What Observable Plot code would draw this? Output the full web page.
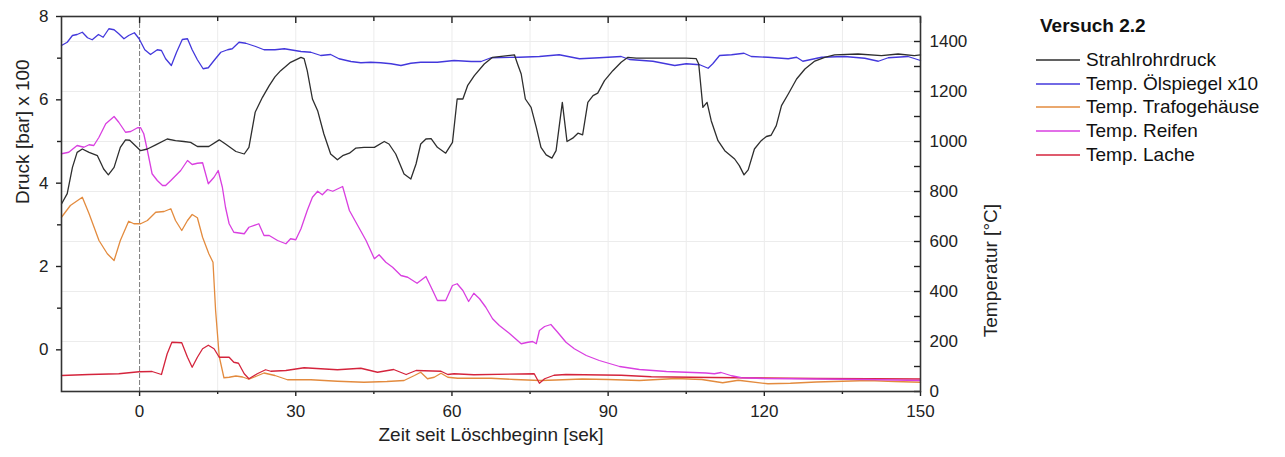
<!DOCTYPE html>
<html><head><meta charset="utf-8">
<script src="https://cdn.jsdelivr.net/npm/d3@7"></script>
<script src="https://cdn.jsdelivr.net/npm/@observablehq/plot@0.6"></script>
<style>
body{margin:0;background:#fff;font-family:"Liberation Sans",Arial,sans-serif;}
#wrap{position:relative;width:1285px;height:457px;overflow:hidden;}
#legend{position:absolute;left:1036px;top:0;width:249px;color:#111;}
#legend .title{position:absolute;left:4px;top:15.5px;font-weight:bold;font-size:19px;line-height:19px;white-space:nowrap;}
#legend .row{position:absolute;left:0;height:24px;display:flex;align-items:center;white-space:nowrap;font-size:19px;line-height:24px;}
#legend svg{display:block;margin-right:6px;}
</style></head>
<body><div id="wrap"><div id="chart"></div><div id="legend"></div></div>
<script>
// ---- Data ----
const legendTitle = "Versuch 2.2";
const seriesNames = ["Strahlrohrdruck", "Temp. Ölspiegel x10", "Temp. Trafogehäuse", "Temp. Reifen", "Temp. Lache"];
const seriesColors = ["#2e2e2e", "#4338dc", "#e38b3e", "#d93fe0", "#d4243c"];

// Strahlrohrdruck [bar x 100] (left axis)
const druckZeit = [-15,-13.9,-12.9,-12,-11,-9.7,-8.1,-6.9,-6,-4.9,-3.7,-2.7,-1.9,-0.8,0.2,1.5,3.1,5.3,6.9,8.5,9.8,11.1,13.3,15.3,16.5,18.5,20.1,21,22.2,23.6,24.9,26,27.1,29,31,31.6,32.2,33.2,34.2,35.4,36.7,38,39,40.3,41.5,43.1,45.1,47,47.9,49.2,50.8,52.1,53.1,54,55,56,57.2,58.8,60.1,61,62.1,63,64.3,66.2,67.8,72,72.6,73.3,74.1,75.2,76.2,77.1,78.1,79.2,80,81.2,82.1,83.2,84.2,85.1,86.1,87.1,88,89.3,90.9,92.5,93.8,95.4,100,105,106.9,107.4,108.2,109,109.8,111.1,112.4,114.3,115.2,116.1,116.9,118.1,119.4,120.4,121.3,122.3,123.3,124.6,126.2,127.8,129.7,131.6,133.5,138,142.5,145.7,148.8,150];
const druckWert = [3.5,3.75,4.38,4.74,4.82,4.74,4.66,4.34,4.2,4.38,4.86,5.04,5.03,4.9,4.78,4.82,4.92,5.06,5.02,5.0,4.98,4.88,4.88,5.04,4.94,4.76,4.7,4.86,5.7,6.06,6.34,6.55,6.7,6.9,7.02,6.99,6.7,6.02,5.74,5.18,4.7,4.56,4.66,4.72,4.84,4.86,4.86,5.0,4.94,4.7,4.22,4.1,4.46,4.94,5.06,5.07,4.86,4.72,4.98,6.02,6.02,6.34,6.58,6.86,7.02,7.08,6.86,6.62,6.02,5.82,5.34,4.86,4.68,4.6,4.78,5.94,5.0,5.08,5.2,5.16,5.94,6.1,6.16,6.46,6.7,6.9,7.02,7.0,7.0,7.0,6.99,6.86,5.82,5.94,5.5,5.02,4.78,4.58,4.42,4.2,4.32,4.82,5.02,5.12,5.15,5.38,5.86,6.14,6.5,6.74,6.93,7.02,7.08,7.1,7.06,7.1,7.06,7.08];

// Temp. Ölspiegel x10 [°C] (right axis)
const oelZeit = [-15,-13.9,-12.9,-12,-11,-10,-9.1,-7.9,-7,-5.9,-4.9,-4,-3,-2.1,-1,-0.1,1,2.1,3.4,4.2,5,6.1,7.1,8.2,9.2,10.1,11.1,12.2,13.2,14.3,15.6,16.9,17.8,19.1,20.4,22.3,23.9,26,27.8,31,32.9,34.8,36.7,38.3,40.6,42.5,44.4,46.3,48.3,50.2,52.1,54,57.2,60.4,63.7,65.6,67.5,72.9,76.8,80.6,84.5,88.3,92.5,94.1,98.6,102.8,105,107.6,109.2,110.1,111.4,113.7,116.1,117.5,120.7,124.6,126.2,127.4,131,135.4,139.3,141.9,143.8,147.6,150];
const oelWert = [1384,1397,1424,1428,1437,1415,1407,1428,1417,1451,1447,1431,1411,1424,1435,1411,1367,1348,1367,1364,1331,1304,1357,1408,1411,1367,1327,1291,1295,1324,1357,1367,1371,1397,1393,1380,1367,1367,1371,1360,1357,1344,1348,1331,1320,1315,1317,1315,1311,1304,1313,1317,1317,1324,1320,1320,1335,1337,1340,1347,1331,1335,1340,1328,1321,1304,1311,1307,1293,1311,1344,1347,1353,1340,1337,1331,1337,1321,1337,1340,1333,1321,1335,1340,1324];

// Temp. Trafogehäuse [°C]
const trafoZeit = [-15,-13.3,-11,-9.7,-7.8,-6.2,-4.9,-3.7,-2.1,-1.1,0.2,1.5,3.1,4.7,6,6.9,8.1,9.2,10.1,11.1,12.1,13.3,14.1,14.6,15.3,16.2,17.2,18.5,19.8,21,22.3,23.9,26,28.4,32.9,38,43.1,47.5,50.8,52.8,54,55.3,56.6,57.9,59.2,61.1,67.5,72,77,80,85,90,96,103,108,112,115,120.7,125,130,135,140,145,150];
const trafoWert = [697,744,777,711,604,551,524,604,681,671,671,684,717,720,731,684,644,684,708,695,617,551,517,324,140,55,57,62,58,49,60,74,64,47,47,41,37,40,44,64,77,51,57,73,57,53,53,48,44,46,50,48,44,52,48,35,45,31,33,38,41,44,40,37];

// Temp. Reifen [°C]
const reifenZeit = [-15,-13.6,-12,-10.7,-9.7,-8.8,-7.8,-6.5,-4.9,-4,-2.7,-1.7,-0.4,0.2,0.8,1.5,2.4,3.4,4.4,5,6,7.9,9.2,10.1,11.1,12.1,13.2,14.3,15.1,15.9,16.5,17.2,18.1,20.1,21,22.9,23.9,24.9,26.5,28.1,29,30,31,32.2,33.2,34.2,35.1,36.1,37.1,39,40.3,41.9,43.5,45.1,46,47.3,48.6,50.2,51.5,53.3,55,56,57.2,58.8,60.1,61,62.1,63.2,64.2,65.3,66.5,67.8,69.1,71,73.3,74.6,75.5,76.2,76.8,77.8,79,80.3,81.9,83.5,85.8,88.3,92.2,96,101.2,105,108.8,110.4,111.7,113.7,115.6,120,130,140,150];
const reifenWert = [951,957,984,977,987,984,1017,1071,1100,1077,1037,1040,1055,1055,1031,964,871,844,824,824,844,884,924,908,913,915,831,857,884,817,737,671,637,631,657,671,624,624,604,591,611,607,651,724,777,801,787,808,801,820,724,664,604,531,547,517,497,464,457,433,460,417,364,364,424,431,404,360,393,371,337,291,264,233,191,197,200,191,244,260,268,237,197,171,144,124,100,88,80,77,74,71,76,63,55,52,50,48,44];

// Temp. Lache [°C]
const lacheZeit = [-15,-9.7,-4,-0.1,2.4,4.2,5.3,6.2,8.1,9.2,10.1,11.1,12.1,13.2,14.3,15.3,17.2,18.1,19,20.1,21,22.6,24.2,25.2,28.1,31.6,34.8,38,42.5,45.7,48.8,51.2,53.1,57.9,59.2,60.4,64.2,75.8,76.8,77.8,79.6,81.9,92.5,98.3,110,130,150];
const lacheWert = [64,68,71,79,80,68,151,197,195,137,97,137,171,185,171,137,137,117,113,71,51,71,87,81,84,95,91,87,93,77,88,68,84,81,68,71,67,71,33,51,65,68,65,59,56,52,50];

// Axis ticks
const xMajor = [0, 30, 60, 90, 120, 150];
const xMinor = [15, 45, 75, 105, 135];
const xGrid = [15, 30, 45, 60, 75, 90, 105, 120, 135];
const druckMajor = [0, 2, 4, 6, 8];
const druckMinor = [1, 3, 5, 7];
const tempMajor = [0, 200, 400, 600, 800, 1000, 1200, 1400];
const tempAll = [0, 100, 200, 300, 400, 500, 600, 700, 800, 900, 1000, 1100, 1200, 1300, 1400];
const xLabel = "Zeit seit Löschbeginn [sek]";
const yLeftLabel = "Druck [bar] x 100";
const yRightLabel = "Temperatur [°C]";

// ---- Build ----
const druckDomain = [-1, 8];
const tempDomain = [0, 1500];
const toT = p => (p - druckDomain[0]) * (tempDomain[1] - tempDomain[0]) / (druckDomain[1] - druckDomain[0]);
const fromT = t => t * (druckDomain[1] - druckDomain[0]) / (tempDomain[1] - tempDomain[0]) + druckDomain[0];

const zip = (xs, ys, f = v => v) => xs.map((x, i) => ({x, y: f(ys[i])}));
const series = [
  zip(druckZeit, druckWert, toT),
  zip(oelZeit, oelWert),
  zip(trafoZeit, trafoWert),
  zip(reifenZeit, reifenWert),
  zip(lacheZeit, lacheWert)
];
const drawOrder = [2, 4, 3, 1, 0];
const font = "Liberation Sans, Arial, sans-serif";

const chart = Plot.plot({
  width: 1285, height: 457,
  marginLeft: 61, marginRight: 365, marginTop: 16, marginBottom: 66,
  x: {domain: [-15, 150]},
  y: {domain: tempDomain},
  style: {fontFamily: font, fontSize: "17px", color: "#222", background: "#fff"},
  marks: [
    Plot.gridX({ticks: xGrid, stroke: "#ececec", strokeOpacity: 1}),
    Plot.gridY({ticks: tempMajor.slice(1), stroke: "#ececec", strokeOpacity: 1}),
    Plot.ruleX([0], {stroke: "#7a7a7a", strokeWidth: 1, strokeDasharray: "5,2"}),
    ...drawOrder.map(i => Plot.line(series[i], {x: "x", y: "y", stroke: seriesColors[i], strokeWidth: 1.3})),
    // bottom axis
    Plot.axisX({anchor: "bottom", ticks: xMajor, tickSize: 5, tickPadding: 8, strokeWidth: 1.4, tickFormat: d => String(d), label: null}),
    Plot.axisX({anchor: "bottom", ticks: xMinor, tickSize: 3, strokeWidth: 1.4, tickFormat: () => "", label: null}),
    // top ticks (inward)
    Plot.axisX({anchor: "top", ticks: xMajor, tickSize: 6, dy: 6, strokeWidth: 1.4, tickFormat: () => "", label: null}),
    Plot.axisX({anchor: "top", ticks: xMinor, tickSize: 4, dy: 4, strokeWidth: 1.4, tickFormat: () => "", label: null}),
    // left axis (pressure)
    Plot.axisY({anchor: "left", ticks: druckMajor.map(toT), tickSize: 5, tickPadding: 8, strokeWidth: 1.4,
      tickFormat: t => String(Math.round(fromT(t))), label: null}),
    Plot.axisY({anchor: "left", ticks: druckMinor.map(toT), tickSize: 4, strokeWidth: 1.4, tickFormat: () => "", label: null}),
    // right axis (temperature), ticks inward
    Plot.axisY({anchor: "right", ticks: tempAll, tickSize: 7, dx: -7, strokeWidth: 1.4, tickFormat: () => "", label: null}),
    Plot.axisY({anchor: "right", ticks: tempMajor, tickSize: 0, tickPadding: 9, tickFormat: d => String(d), label: null}),
    Plot.frame({stroke: "#333", strokeWidth: 1.6}),
    // axis titles
    Plot.text([yLeftLabel], {text: d => d, frameAnchor: "left", rotate: -90, dx: -39, fontSize: 19, fill: "#222"}),
    Plot.text([yRightLabel], {text: d => d, frameAnchor: "right", rotate: -90, dx: 70, fontSize: 19, fill: "#222"}),
    Plot.text([xLabel], {text: d => d, frameAnchor: "bottom", dy: 49, fontSize: 19, fill: "#222"})
  ]
});
document.getElementById("chart").appendChild(chart);

// ---- Legend ----
const legend = document.getElementById("legend");
const t = document.createElement("div");
t.className = "title";
t.textContent = legendTitle;
legend.appendChild(t);
const ns = "http://www.w3.org/2000/svg";
seriesNames.forEach((name, i) => {
  const row = document.createElement("div");
  row.className = "row";
  row.style.top = Math.round(48 + i * 23.7) + "px";
  const sw = document.createElementNS(ns, "svg");
  sw.setAttribute("width", "44");
  sw.setAttribute("height", "6");
  const ln = document.createElementNS(ns, "line");
  ln.setAttribute("x1", "0"); ln.setAttribute("x2", "44");
  ln.setAttribute("y1", "3"); ln.setAttribute("y2", "3");
  ln.setAttribute("stroke", seriesColors[i]);
  ln.setAttribute("stroke-width", "1.4");
  sw.appendChild(ln);
  const tx = document.createElement("span");
  tx.textContent = name;
  row.appendChild(sw);
  row.appendChild(tx);
  legend.appendChild(row);
});
</script>
</body></html>
